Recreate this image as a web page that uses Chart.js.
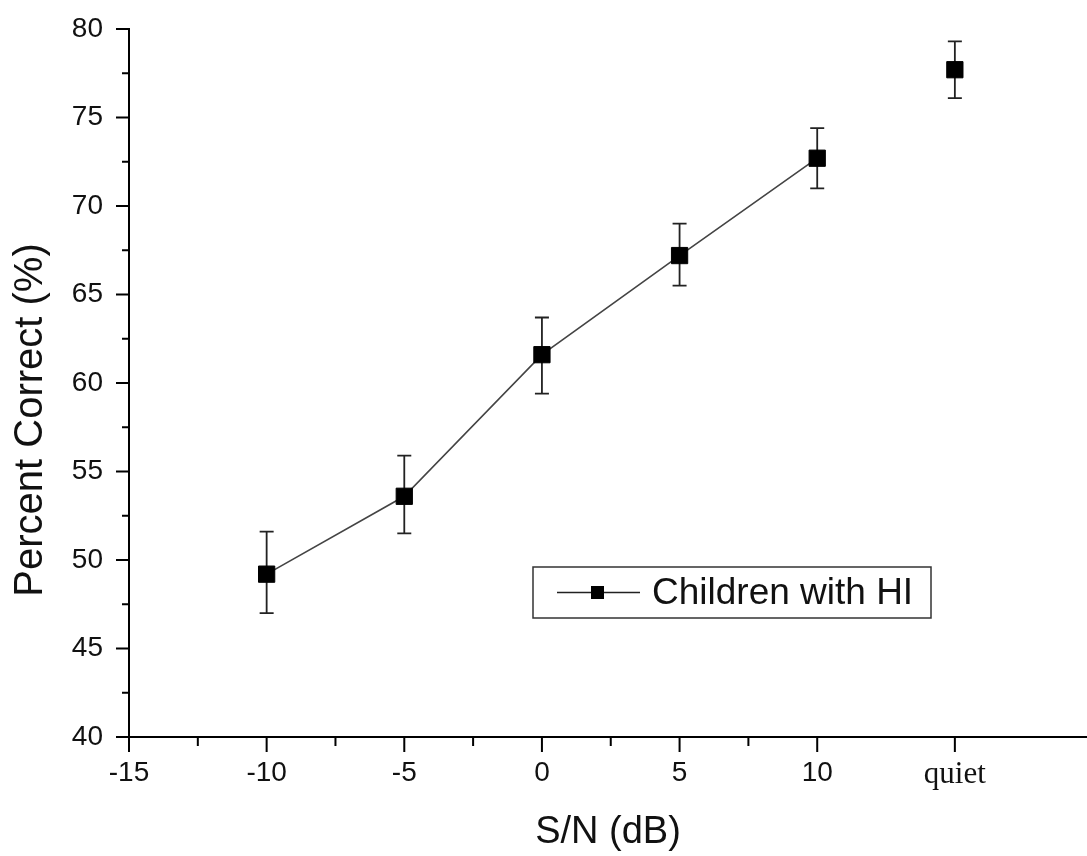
<!DOCTYPE html>
<html>
<head>
<meta charset="utf-8">
<script src="https://cdn.jsdelivr.net/npm/chart.js@4"></script>
<style>
  html, body { margin: 0; padding: 0; background: #fff; overflow: hidden; }
  #wrap { width: 1087px; height: 856px; }
  canvas { display: block; }
</style>
</head>
<body>
<div id="wrap"><canvas id="chart"></canvas></div>
<script>
// values
const snr = [-10, -5, 0, 5, 10, 15]
const percentCorrect = [49.2, 53.6, 61.6, 67.2, 72.7, 77.7]
const errLow = [47.0, 51.5, 59.4, 65.5, 71.0, 76.1]
const errHigh = [51.6, 55.9, 63.7, 69.0, 74.4, 79.3]
const seriesLabel = 'Children with HI'
const yAxisTitle = 'Percent Correct (%)'

// axes
const xTicks = [-15, -10, -5, 0, 5, 10, 15]
const xTickLabels = ['-15', '-10', '-5', '0', '5', '10', 'quiet']
const xMinorTicks = [-12.5, -7.5, -2.5, 2.5, 7.5]
const yTicks = [40, 45, 50, 55, 60, 65, 70, 75, 80]
const yMinorTicks = [42.5, 47.5, 52.5, 57.5, 62.5, 67.5, 72.5, 77.5]

const SANS = "'Liberation Sans', Arial, sans-serif"
const SERIF = "'Liberation Serif', 'Times New Roman', serif"

// error bars under the markers
const errorBars = {
  id: 'errorBars',
  beforeDatasetsDraw(chart) {
    const { ctx, scales: { x, y } } = chart
    ctx.save()
    ctx.strokeStyle = '#222'
    ctx.lineWidth = 1.8
    snr.forEach((v, i) => {
      const px = x.getPixelForValue(v)
      const top = y.getPixelForValue(errHigh[i])
      const bot = y.getPixelForValue(errLow[i])
      ctx.beginPath()
      ctx.moveTo(px, top); ctx.lineTo(px, bot)
      ctx.moveTo(px - 7, top); ctx.lineTo(px + 7, top)
      ctx.moveTo(px - 7, bot); ctx.lineTo(px + 7, bot)
      ctx.stroke()
    })
    ctx.restore()
  }
}

// outward tick marks, major and minor, plus the y title (sits a bit below centre)
const tickMarks = {
  id: 'tickMarks',
  afterDraw(chart) {
    const { ctx, scales: { x, y }, chartArea } = chart
    ctx.save()
    ctx.strokeStyle = '#000'
    ctx.lineWidth = 2
    ctx.beginPath()
    xTicks.forEach(v => {
      const px = x.getPixelForValue(v)
      ctx.moveTo(px, chartArea.bottom); ctx.lineTo(px, chartArea.bottom + 15)
    })
    xMinorTicks.forEach(v => {
      const px = x.getPixelForValue(v)
      ctx.moveTo(px, chartArea.bottom); ctx.lineTo(px, chartArea.bottom + 9)
    })
    yTicks.forEach(v => {
      const py = y.getPixelForValue(v)
      ctx.moveTo(chartArea.left, py); ctx.lineTo(chartArea.left - 13, py)
    })
    yMinorTicks.forEach(v => {
      const py = y.getPixelForValue(v)
      ctx.moveTo(chartArea.left, py); ctx.lineTo(chartArea.left - 7, py)
    })
    ctx.stroke()

    ctx.translate(31, 420)
    ctx.rotate(-Math.PI / 2)
    ctx.font = '40px ' + SANS
    ctx.fillStyle = '#111'
    ctx.textAlign = 'center'
    ctx.textBaseline = 'middle'
    ctx.fillText(yAxisTitle, 0, 0)
    ctx.restore()
  }
}

// boxed legend inside the plot
const boxLegend = {
  id: 'boxLegend',
  afterDraw(chart) {
    const { ctx } = chart
    const bx = 533, by = 567, bw = 398, bh = 51
    const cy = by + bh / 2
    ctx.save()
    ctx.strokeStyle = '#333'
    ctx.lineWidth = 1.5
    ctx.strokeRect(bx, by, bw, bh)
    ctx.strokeStyle = '#222'
    ctx.beginPath()
    ctx.moveTo(557, cy); ctx.lineTo(640, cy)
    ctx.stroke()
    ctx.fillStyle = '#000'
    ctx.fillRect(591, cy - 6.5, 13, 13)
    ctx.font = '37px ' + SANS
    ctx.textBaseline = 'middle'
    ctx.fillStyle = '#111'
    ctx.fillText(chart.data.datasets[0].label, 652, cy + 1)
    ctx.restore()
  }
}

new Chart(document.getElementById('chart'), {
  type: 'scatter',
  data: {
    datasets: [{
      label: seriesLabel,
      data: snr.map((v, i) => ({ x: v, y: percentCorrect[i] })),
      showLine: true,
      borderColor: '#444',
      borderWidth: 1.6,
      segment: {
        // the quiet condition is not joined to the line
        borderColor: c => c.p0DataIndex === 4 ? 'rgba(0,0,0,0)' : '#444'
      },
      pointStyle: 'rect',
      pointRadius: 11.5,
      pointBackgroundColor: '#000',
      pointBorderColor: '#000',
      pointBorderWidth: 1
    }]
  },
  options: {
    responsive: true,
    maintainAspectRatio: false,
    animation: false,
    layout: { autoPadding: false, padding: { top: 29, right: 0, left: 0, bottom: 0 } },
    plugins: {
      legend: { display: false },
      tooltip: { enabled: false }
    },
    scales: {
      x: {
        type: 'linear',
        min: -15,
        max: 19.8,
        afterBuildTicks: scale => { scale.ticks = xTicks.map(v => ({ value: v })) },
        afterFit: scale => {
          scale.height = 119
          scale.paddingLeft = 0
          scale.paddingRight = 0
        },
        grid: { display: false, drawTicks: false },
        border: { display: true, color: '#000', width: 2 },
        ticks: {
          autoSkip: false,
          maxRotation: 0,
          padding: 19,
          color: '#111',
          callback: v => xTickLabels[xTicks.indexOf(v)] ?? '',
          font: c => (c.tick && c.tick.value === 15)
            ? { family: SERIF, size: 31 }
            : { family: SANS, size: 28 }
        },
        title: {
          display: true,
          text: 'S/N (dB)',
          color: '#111',
          font: { family: SANS, size: 38 },
          padding: { top: 0, bottom: 1 }
        }
      },
      y: {
        min: 40,
        max: 80,
        afterBuildTicks: scale => { scale.ticks = yTicks.map(v => ({ value: v })) },
        afterFit: scale => {
          scale.width = 129
          scale.paddingTop = 0
          scale.paddingBottom = 0
        },
        grid: { display: false, drawTicks: false },
        border: { display: true, color: '#000', width: 2 },
        ticks: {
          padding: 26,
          color: '#111',
          font: { family: SANS, size: 28 }
        }
      }
    }
  },
  plugins: [errorBars, tickMarks, boxLegend]
})
</script>
</body>
</html>
